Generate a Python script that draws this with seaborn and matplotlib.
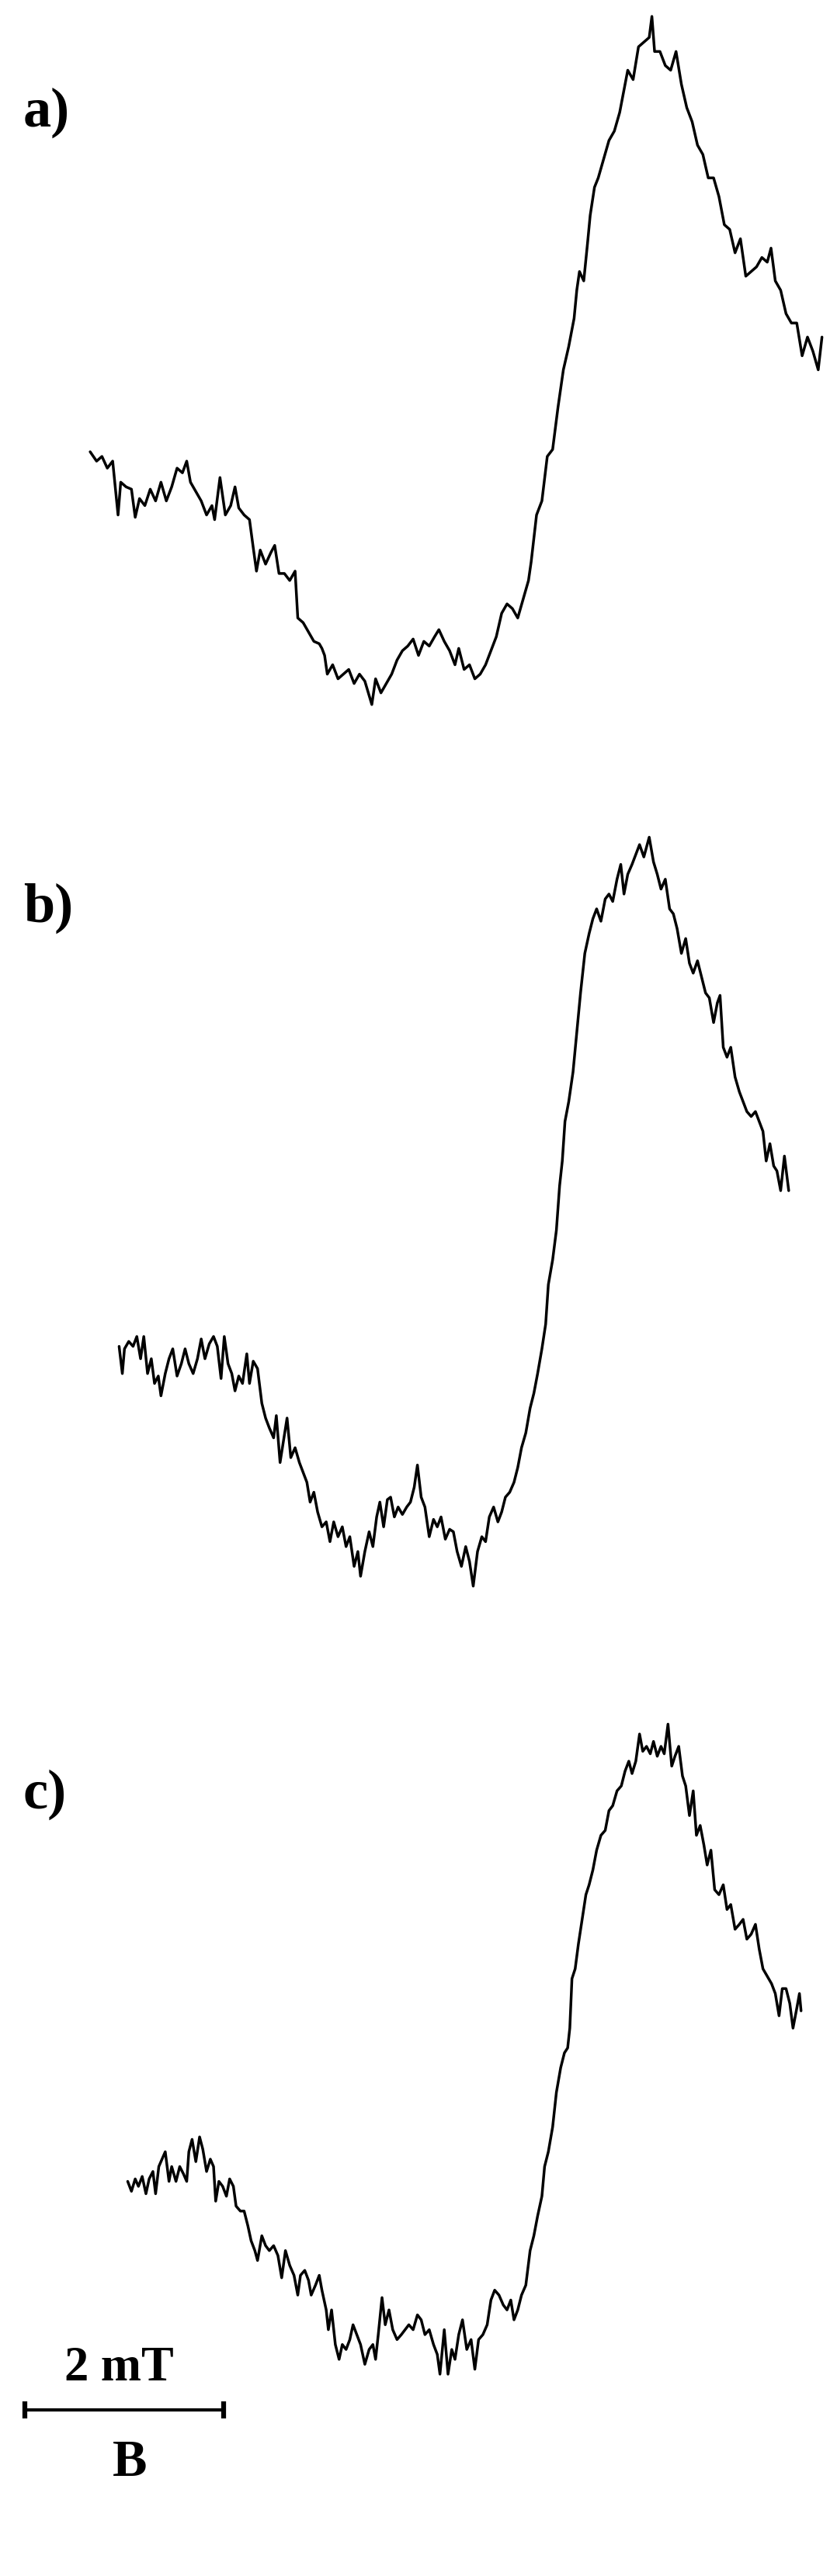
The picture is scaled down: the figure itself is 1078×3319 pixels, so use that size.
import numpy as np
import pandas as pd
import seaborn as sns
import matplotlib.pyplot as plt

a_x = [168, 180, 190, 200, 210, 220, 225, 235, 245, 252, 260, 270, 280, 290, 300, 310, 320, 330, 340, 348,
       355, 365, 375, 385, 395, 400, 410, 420, 430, 438, 445, 455, 465, 472, 478, 485, 495, 505, 512, 520,
       530, 540, 550, 555, 565, 575, 585, 595, 600, 605, 610, 620, 630, 640, 650, 660, 670, 680, 693, 700,
       710, 720, 730, 740, 750, 760, 770, 780, 790, 800, 810, 818, 828, 838, 848, 855, 865, 875, 885, 895,
       905, 915, 925, 935, 945, 955, 965, 975, 985, 990, 1000, 1010, 1020, 1030, 1040, 1050, 1060, 1070, 1075, 1080,
       1088, 1095, 1100, 1108, 1115, 1125, 1135, 1145, 1155, 1160, 1170, 1180, 1190, 1200, 1210, 1215, 1220, 1230, 1240, 1250,
       1260, 1270, 1280, 1290, 1300, 1310, 1320, 1330, 1340, 1350, 1360, 1370, 1380, 1390, 1400, 1410, 1420, 1430, 1437, 1445,
       1455, 1465, 1475, 1485, 1495, 1505, 1515, 1525, 1532]
a_y = [965, 985, 975, 1000, 985, 1100, 1030, 1040, 1045, 1105, 1065, 1080, 1045, 1070, 1030, 1070, 1040, 1000, 1010, 985,
       1030, 1050, 1070, 1100, 1080, 1110, 1020, 1100, 1080, 1040, 1085, 1100, 1110, 1170, 1220, 1175, 1205, 1180, 1165, 1225,
       1225, 1240, 1220, 1320, 1330, 1350, 1370, 1375, 1385, 1400, 1440, 1420, 1450, 1440, 1430, 1460, 1440, 1455, 1505, 1450,
       1480, 1460, 1440, 1410, 1390, 1380, 1365, 1400, 1370, 1380, 1360, 1345, 1370, 1390, 1420, 1385, 1430, 1420, 1450, 1440,
       1420, 1390, 1360, 1310, 1290, 1300, 1320, 1280, 1240, 1200, 1100, 1070, 975, 960, 870, 790, 740, 680, 620, 580,
       600, 520, 460, 400, 380, 340, 300, 280, 240, 210, 150, 170, 100, 90, 80, 35, 110, 110, 140, 150,
       110, 180, 230, 260, 310, 330, 380, 380, 420, 480, 490, 540, 510, 590, 580, 570, 550, 560, 530, 600,
       620, 670, 690, 690, 760, 720, 750, 790, 720]

b_x = [222, 228, 232, 240, 248, 255, 262, 268, 275, 282, 288, 295, 300, 308, 315, 322, 330, 338, 345, 352,
       360, 368, 375, 382, 390, 398, 405, 412, 418, 425, 432, 438, 445, 452, 460, 465, 472, 480, 488, 495,
       502, 510, 515, 522, 530, 535, 542, 550, 558, 565, 572, 578, 585, 592, 600, 608, 615, 622, 630, 638,
       645, 652, 660, 667, 672, 680, 688, 695, 702, 708, 715, 722, 728, 735, 742, 750, 758, 765, 772, 778,
       785, 792, 800, 808, 815, 822, 830, 838, 845, 852, 860, 868, 875, 882, 890, 898, 905, 912, 920, 928,
       935, 942, 950, 958, 965, 972, 980, 988, 995, 1002, 1010, 1017, 1022, 1030, 1037, 1043, 1048, 1053, 1060, 1068,
       1075, 1082, 1090, 1098, 1105, 1112, 1120, 1128, 1135, 1142, 1150, 1157, 1163, 1170, 1178, 1185, 1192, 1200, 1210, 1218,
       1225, 1232, 1240, 1248, 1255, 1262, 1270, 1278, 1285, 1292, 1300, 1308, 1315, 1322, 1330, 1337, 1342, 1348, 1355, 1362,
       1370, 1378, 1385, 1392, 1400, 1408, 1415, 1422, 1428, 1435, 1442, 1448, 1455, 1462, 1470]
b_y = [1075, 1130, 1080, 1065, 1075, 1055, 1100, 1055, 1130, 1100, 1150, 1135, 1175, 1130, 1100, 1080, 1135, 1110, 1080, 1110,
       1130, 1100, 1060, 1100, 1070, 1055, 1075, 1140, 1055, 1110, 1130, 1165, 1135, 1150, 1090, 1150, 1105, 1120, 1190, 1220,
       1240, 1260, 1215, 1310, 1255, 1220, 1300, 1280, 1310, 1330, 1350, 1390, 1370, 1410, 1440, 1430, 1470, 1430, 1460, 1440,
       1480, 1460, 1520, 1490, 1540, 1490, 1450, 1480, 1420, 1390, 1440, 1385, 1380, 1420, 1400, 1415, 1400, 1390, 1360, 1315,
       1380, 1400, 1460, 1425, 1440, 1420, 1465, 1445, 1450, 1490, 1520, 1480, 1510, 1560, 1490, 1460, 1470, 1420, 1400, 1430,
       1410, 1380, 1370, 1350, 1320, 1280, 1250, 1200, 1170, 1130, 1080, 1030, 950, 900, 840, 750, 700, 620, 580, 520,
       440, 360, 280, 240, 210, 190, 215, 170, 160, 175, 130, 100, 160, 120, 100, 80, 60, 85, 45, 95,
       120, 150, 130, 190, 200, 230, 280, 250, 300, 320, 295, 330, 360, 370, 420, 380, 365, 470, 490, 470,
       530, 560, 580, 600, 610, 600, 620, 640, 700, 665, 710, 720, 760, 690, 760]

c_x = [238, 245, 252, 258, 265, 272, 278, 285, 290, 296, 302, 308, 315, 320, 328, 335, 342, 348, 352, 358,
       365, 372, 378, 385, 392, 398, 402, 408, 415, 422, 428, 435, 440, 448, 455, 462, 468, 475, 480, 488,
       495, 502, 510, 518, 525, 532, 540, 548, 555, 560, 568, 575, 580, 588, 595, 600, 608, 612, 618, 625,
       632, 638, 645, 652, 658, 665, 672, 680, 688, 695, 700, 705, 712, 718, 725, 732, 740, 748, 755, 762,
       770, 778, 785, 792, 800, 808, 815, 820, 828, 835, 842, 848, 855, 862, 870, 878, 885, 892, 900, 908,
       915, 922, 930, 938, 945, 952, 958, 965, 972, 980, 988, 995, 1002, 1010, 1015, 1022, 1030, 1037, 1045, 1052,
       1058, 1062, 1066, 1072, 1078, 1085, 1092, 1098, 1105, 1112, 1120, 1128, 1135, 1142, 1150, 1158, 1165, 1172, 1178, 1185,
       1192, 1198, 1205, 1212, 1218, 1225, 1232, 1238, 1245, 1252, 1258, 1265, 1272, 1278, 1285, 1292, 1298, 1305, 1312, 1318,
       1325, 1332, 1340, 1348, 1355, 1362, 1370, 1378, 1385, 1392, 1400, 1408, 1415, 1422, 1430, 1438, 1445, 1452, 1458, 1465,
       1472, 1478, 1485, 1490, 1493]
c_y = [990, 1010, 985, 1000, 980, 1015, 985, 970, 1015, 960, 945, 930, 990, 960, 990, 960, 975, 990, 930, 905,
       950, 900, 925, 970, 945, 960, 1030, 990, 1000, 1020, 985, 1000, 1040, 1050, 1050, 1080, 1110, 1130, 1150, 1100,
       1120, 1130, 1120, 1140, 1185, 1130, 1160, 1180, 1220, 1180, 1170, 1190, 1220, 1200, 1180, 1210, 1250, 1290, 1250, 1320,
       1350, 1320, 1330, 1310, 1280, 1300, 1320, 1360, 1330, 1320, 1350, 1300, 1225, 1280, 1250, 1290, 1310, 1300, 1290, 1280,
       1290, 1260, 1270, 1300, 1290, 1320, 1340, 1380, 1290, 1380, 1330, 1350, 1300, 1270, 1330, 1310, 1370, 1310, 1300, 1280,
       1230, 1210, 1220, 1240, 1250, 1230, 1270, 1250, 1220, 1200, 1130, 1100, 1060, 1020, 960, 930, 880, 810, 760, 730,
       720, 680, 580, 560, 510, 460, 410, 390, 360, 320, 290, 280, 240, 230, 200, 190, 160, 140, 165, 140,
       85, 120, 110, 125, 100, 130, 110, 125, 65, 150, 130, 110, 170, 190, 250, 200, 290, 270, 310, 350,
       320, 400, 410, 390, 440, 430, 480, 470, 460, 500, 490, 470, 520, 560, 575, 590, 610, 655, 600, 600,
       630, 680, 640, 610, 645]

panels = ["a)", "b)", "c)"]
traces = [(a_x, a_y), (b_x, b_y), (c_x, c_y)]
# digitiser -> image pixels, and where each panel starts
sx = 1078 / 1560
sy = [950 / 1575, 1000 / 1570, 1000 / 1570]
top = [0, 1050, 2180]
px_per_mT = 128

frames = []
for lab, (xs, ys), k, t in zip(panels, traces, sy, top):
    frames.append(pd.DataFrame({
        "B (mT)": np.array(xs) * sx / px_per_mT,
        "signal": -(t + np.array(ys) * k),
        "panel": lab,
    }))
df = pd.concat(frames, ignore_index=True)

sns.set_theme(style="white")
plt.rcParams["font.family"] = ["Liberation Serif", "DejaVu Serif"]
plt.rcParams["text.color"] = "black"

W, H = 1078, 3319
fig = plt.figure(figsize=(W / 100, H / 100), dpi=100)
ax = fig.add_axes([0, 0, 1, 1])
sns.lineplot(data=df, x="B (mT)", y="signal", hue="panel", units="panel",
             estimator=None, sort=False, palette=["black"] * 3,
             linewidth=2.5, legend=False, ax=ax)
ax.set_xlim(0, W / px_per_mT)
ax.set_ylim(-H, 0)
ax.set_axis_off()

# panel letters
for lab, yb in zip(panels, [163, 1188, 2330]):
    ax.text(30 / px_per_mT, -yb, lab, fontsize=52, fontweight="bold",
            ha="left", va="baseline")

# 2 mT scale bar
x0, x1, yb = 32 / px_per_mT, 288 / px_per_mT, -3105
ax.plot([x0, x1], [yb, yb], color="black", lw=3, solid_capstyle="butt")
ax.vlines([x0, x1], yb - 11, yb + 11, color="black", lw=4.5)
ax.text((x0 + x1) / 2 - 0.05, -3067, "2 mT", fontsize=45, fontweight="bold",
        ha="center", va="baseline")
ax.text(167 / px_per_mT, -3190, "B", fontsize=48, fontweight="bold",
        ha="center", va="baseline")

fig.savefig("out.png", dpi=100, facecolor="white")
